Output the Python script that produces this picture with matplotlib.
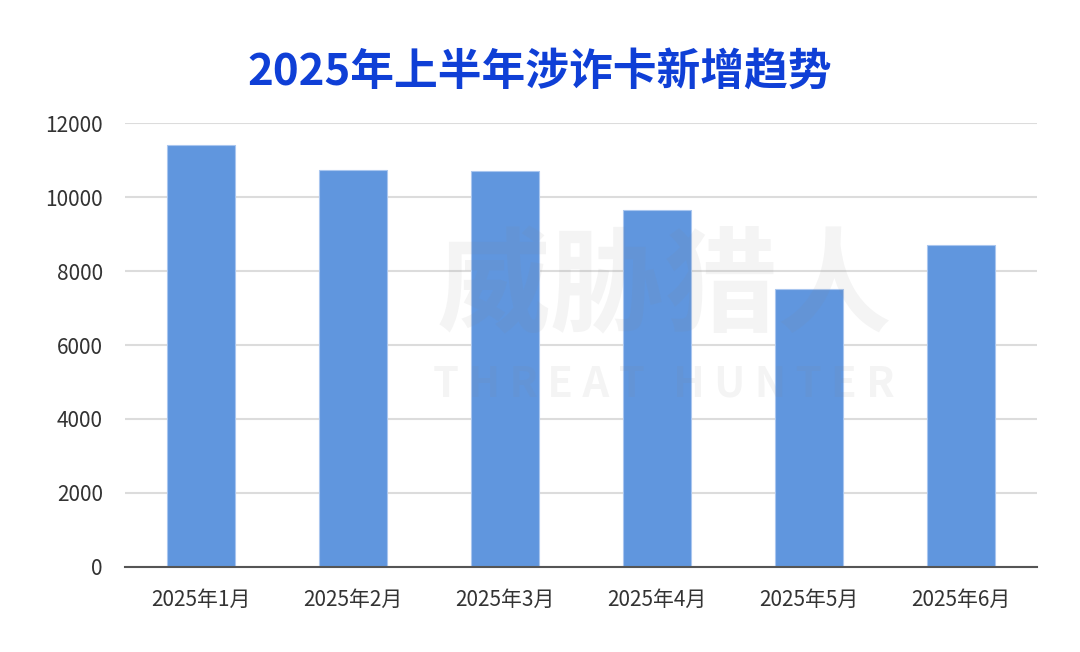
import matplotlib
matplotlib.use("Agg")
import matplotlib.pyplot as plt

months = ["2025年1月", "2025年2月", "2025年3月", "2025年4月", "2025年5月", "2025年6月"]
new_cards = [11410, 10730, 10700, 9650, 7520, 8700]
yticks = [0, 2000, 4000, 6000, 8000, 10000, 12000]

plt.rcParams['font.family'] = ['Noto Sans CJK SC', 'DejaVu Sans']

fig = plt.figure(figsize=(10.8, 6.52), dpi=100)
ax = fig.add_axes([0.1157, 0.1304, 0.8445, 0.6809])

x = range(len(months))
ax.bar(x, new_cards, width=0.45, color="#6096DE", edgecolor="#A9C6EF", linewidth=0.8, zorder=2)

ax.set_xlim(-0.5, len(months) - 0.5)
ax.set_ylim(0, 12000)
ax.set_yticks(yticks)
ax.set_yticklabels([str(v) for v in yticks])
ax.set_xticks(list(x))
ax.set_xticklabels(months)

ax.grid(axis="y", color="#DCDCDC", linewidth=1.5, zorder=0)
ax.set_axisbelow(True)
for s in ["top", "right", "left"]:
    ax.spines[s].set_visible(False)
ax.spines["bottom"].set_color("#555555")
ax.spines["bottom"].set_linewidth(1.5)
ax.spines["bottom"].set_zorder(3)
ax.tick_params(axis="both", length=0, labelsize=15, colors="#333333")
ax.tick_params(axis="x", pad=16)
ax.tick_params(axis="y", pad=16)

# faint watermark
fig.text(0.615, 0.555, "威胁猎人", fontsize=82, fontweight="bold", color="#888888",
         alpha=0.09, ha="center", va="center", zorder=5)
fig.text(0.615, 0.41, "T H R E A T   H U N T E R", fontsize=30, fontweight="bold",
         color="#888888", alpha=0.09, ha="center", va="center", zorder=5)

fig.text(0.5, 0.89, "2025年上半年涉诈卡新增趋势", fontsize=31.5, fontweight="bold",
         color="#0F3FD6", ha="center", va="center")

fig.savefig("out.png", dpi=100, facecolor="white")
